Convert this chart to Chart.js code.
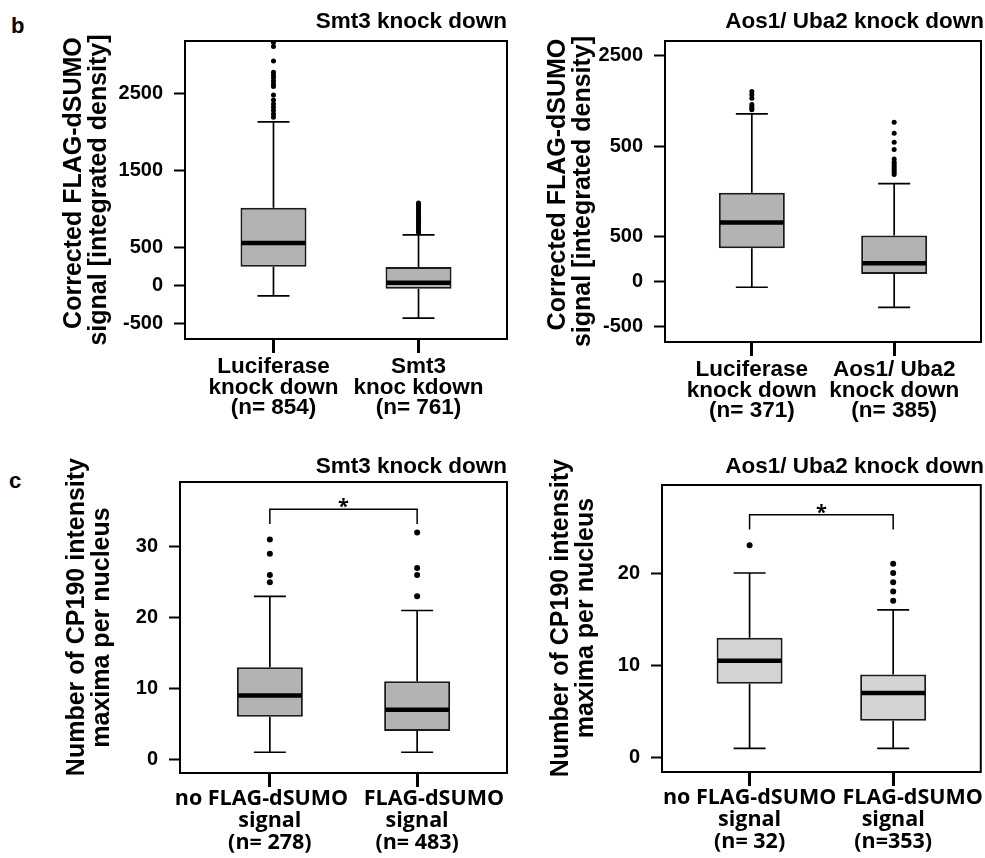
<!DOCTYPE html>
<html>
<head>
<meta charset="utf-8">
<script src="https://cdn.jsdelivr.net/npm/chart.js@4.4.1/dist/chart.umd.min.js"></script>
<style>
    body { margin: 0; background: #fff; width: 985px; height: 858px; position: relative; overflow: hidden; }
    .panel { position: absolute; }
    .letter { position: absolute; font: bold 22px "Liberation Sans", Arial, sans-serif; color: #000; }
</style>
</head>
<body>
<div class="letter" style="left:11px;top:13px">b</div>
<div class="letter" style="left:9px;top:468px">c</div>
<canvas class="panel" id="bSmt" width="512" height="428" style="left:0;top:0"></canvas>
<canvas class="panel" id="bAos" width="495" height="428" style="left:490px;top:0"></canvas>
<canvas class="panel" id="cSmt" width="512" height="430" style="left:0;top:428px"></canvas>
<canvas class="panel" id="cAos" width="495" height="430" style="left:490px;top:428px"></canvas>
<script>
// b: FLAG-dSUMO signal, Smt3 knock down
const bSmtLabels = [['Luciferase', 'knock down', '(n= 854)'], ['Smt3', 'knoc kdown', '(n= 761)']];
const bSmtLow = [-134, -425];
const bSmtQ1 = [248, -39];
const bSmtMedian = [557, 39];
const bSmtQ3 = [1017, 244];
const bSmtHigh = [2135, 661];
const bSmtOutliers = [
    [2196, 2239, 2283, 2327, 2370, 2422, 2487, 2596, 2631, 2670, 2713, 2748, 2783, 2931, 3118, 3170],
    [690, 715, 740, 765, 790, 815, 840, 865, 890, 915, 940, 965, 990, 1015, 1040, 1060, 1078]
];
const bSmtTicks = [-500, 0, 500, 1500, 2500];
const bSmtTickLabels = ['-500', '0', '500', '1500', '2500'];

// b: FLAG-dSUMO signal, Aos1/ Uba2 knock down
const bAosLabels = [['Luciferase', 'knock down', '(n= 371)'], ['Aos1/ Uba2', 'knock down', '(n= 385)']];
const bAosLow = [-63, -285];
const bAosQ1 = [369, 85];
const bAosMedian = [653, 203];
const bAosQ3 = [982, 509];
const bAosHigh = [1857, 1085];
const bAosOutliers = [
    [1901, 1915, 1937, 1960, 2029, 2067, 2103],
    [1185, 1207, 1229, 1251, 1273, 1295, 1321, 1358, 1461, 1542, 1642, 1764]
];
const bAosTicks = [-500, 0, 500, 1500, 2500];
const bAosTickLabels = ['-500', '0', '500', '500', '2500'];

// c: CP190 maxima per nucleus, Smt3 knock down
// (the spaces only nudge each line to where it sits in the figure)
const cSmtLabels = [['no FLAG-dSUMO   ', 'signal', '(n= 278)'], ['      FLAG-dSUMO', 'signal', '(n= 483)']];
const cSmtLow = [1, 1];
const cSmtQ1 = [6, 4];
const cSmtMedian = [9, 7];
const cSmtQ3 = [13, 11];
const cSmtHigh = [23, 21];
const cSmtOutliers = [[25, 26, 29, 31], [23, 26, 27, 32]];
const cSmtTicks = [0, 10, 20, 30];
const cSmtBracket = [33.2, 35.3];

// c: CP190 maxima per nucleus, Aos1/ Uba2 knock down
const cAosLabels = [['no FLAG-dSUMO', 'signal', '(n= 32)'], ['       FLAG-dSUMO', 'signal', '(n=353)']];
const cAosLow = [1, 1];
const cAosQ1 = [8, 4];
const cAosMedian = [10.5, 7];
const cAosQ3 = [13, 9];
const cAosHigh = [20, 16];
const cAosOutliers = [[23], [17, 18, 19, 20, 21]];
const cAosTicks = [0, 10, 20];
const cAosBracket = [24.7, 26.3];

const ARIAL = '"Liberation Sans", Arial, sans-serif';
const CALIBRI = '"Open Sans", "Noto Sans", sans-serif';

// whiskers, medians, significance bracket and the frame
function boxExtras(p) {
    return {
        id: 'boxExtras',
        afterDatasetsDraw(chart) {
            const {ctx, chartArea: a, scales: {x, y}} = chart;
            ctx.save();
            ctx.strokeStyle = '#000';
            p.low.forEach((lo, i) => {
                const cx = x.getPixelForValue(i + 1);
                const yLo = y.getPixelForValue(lo);
                const yHi = y.getPixelForValue(p.high[i]);
                ctx.lineWidth = 1.7;
                ctx.beginPath();
                ctx.moveTo(cx, y.getPixelForValue(p.q1[i]));
                ctx.lineTo(cx, yLo);
                ctx.moveTo(cx - 16, yLo);
                ctx.lineTo(cx + 16, yLo);
                ctx.moveTo(cx, y.getPixelForValue(p.q3[i]));
                ctx.lineTo(cx, yHi);
                ctx.moveTo(cx - 16, yHi);
                ctx.lineTo(cx + 16, yHi);
                ctx.stroke();
                const ym = y.getPixelForValue(p.median[i]);
                ctx.lineWidth = 4.5;
                ctx.beginPath();
                ctx.moveTo(cx - 32, ym);
                ctx.lineTo(cx + 32, ym);
                ctx.stroke();
            });
            if (p.bracket) {
                const x1 = x.getPixelForValue(1), x2 = x.getPixelForValue(2);
                const yb = y.getPixelForValue(p.bracket[1]);
                const yl = y.getPixelForValue(p.bracket[0]);
                ctx.lineWidth = 1.5;
                ctx.beginPath();
                ctx.moveTo(x1, yl);
                ctx.lineTo(x1, yb);
                ctx.lineTo(x2, yb);
                ctx.lineTo(x2, yl);
                ctx.stroke();
                ctx.fillStyle = '#000';
                ctx.font = 'bold 20px ' + CALIBRI;
                ctx.textAlign = 'center';
                ctx.textBaseline = 'alphabetic';
                ctx.fillText('*', (x1 + x2) / 2, yb + 4);
            }
            ctx.lineWidth = 2;
            ctx.strokeRect(a.left, a.top, a.right - a.left, a.bottom - a.top);
            ctx.restore();
        }
    };
}

function makePanel(id, p) {
    const boxes = p.q1.map((v, i) => ({x: i + 1, y: [v, p.q3[i]]}));
    const dots = p.outliers.flatMap((list, i) => list.map(v => ({x: i + 1, y: v})));
    return new Chart(document.getElementById(id), {
        type: 'bar',
        data: {
            datasets: [{
                data: boxes,
                backgroundColor: p.fill,
                borderColor: '#1a1a1a',
                borderWidth: 2,
                borderSkipped: false,
                inflateAmount: 0,
                barThickness: 66,
                grouped: false
            }, {
                type: 'scatter',
                data: dots,
                pointRadius: p.dot,
                pointBackgroundColor: '#000',
                pointBorderWidth: 0
            }]
        },
        options: {
            responsive: false,
            animation: false,
            events: [],
            layout: {padding: {left: 0, right: p.padRight, top: 0, bottom: 0}},
            plugins: {
                legend: {display: false},
                tooltip: {enabled: false},
                title: {
                    display: true,
                    text: p.title,
                    align: 'end',
                    color: '#000',
                    font: {family: ARIAL, size: 22.5, weight: 'bold', lineHeight: 1.2},
                    padding: p.titlePad
                }
            },
            scales: {
                x: {
                    type: 'linear',
                    min: 0.39,
                    max: 2.61,
                    offset: false,
                    afterBuildTicks: s => { s.ticks = [{value: 1}, {value: 2}]; },
                    afterFit: s => { s.height = p.xH; },
                    ticks: {
                        callback: v => p.labels[v - 1],
                        color: '#000',
                        autoSkip: false,
                        maxRotation: 0,
                        padding: p.xPad,
                        font: p.xFont
                    },
                    grid: {display: true, offset: false, drawOnChartArea: false, tickLength: 14, tickWidth: 3, tickColor: '#000'},
                    border: {display: false}
                },
                y: {
                    min: p.yMin,
                    max: p.yMax,
                    afterBuildTicks: s => { s.ticks = p.ticks.map(v => ({value: v})); },
                    afterFit: s => { s.width = p.yW; },
                    ticks: {
                        callback: (v, i) => p.tickLabels[i],
                        color: '#000',
                        autoSkip: false,
                        padding: 11,
                        font: {family: ARIAL, size: 20, weight: 'bold'}
                    },
                    grid: {display: true, drawOnChartArea: false, tickLength: 11, tickWidth: 2, tickColor: '#000'},
                    border: {display: false},
                    title: {
                        display: true,
                        text: p.yTitle,
                        color: '#000',
                        font: {family: ARIAL, size: 25, weight: 'bold', lineHeight: 1},
                        padding: {top: p.yTitlePad, bottom: 0}
                    }
                }
            }
        },
        plugins: [boxExtras(p)]
    });
}

const bFont = {family: ARIAL, size: 22.5, weight: 'bold', lineHeight: '20.5px'};
const cFont = {family: CALIBRI, size: 21.5, weight: 'bold', lineHeight: '22px'};

makePanel('bSmt', {
    title: 'Smt3 knock down', yTitle: ['  Corrected FLAG-dSUMO', 'signal [integrated density]'], labels: bSmtLabels,
    low: bSmtLow, q1: bSmtQ1, median: bSmtMedian, q3: bSmtQ3, high: bSmtHigh, outliers: bSmtOutliers,
    ticks: bSmtTicks, tickLabels: bSmtTickLabels, yMin: -696, yMax: 3191,
    fill: '#b3b3b3', dot: 2.5, xFont: bFont, xPad: 4,
    yW: 185, xH: 89, padRight: 5, titlePad: {top: 8.5, bottom: 5.5}, yTitlePad: 61.5
});
makePanel('bAos', {
    title: 'Aos1/ Uba2 knock down', yTitle: ['  Corrected FLAG-dSUMO', 'signal [integrated density]'], labels: bAosLabels,
    low: bAosLow, q1: bAosQ1, median: bAosMedian, q3: bAosQ3, high: bAosHigh, outliers: bAosOutliers,
    ticks: bAosTicks, tickLabels: bAosTickLabels, yMin: -669, yMax: 2663,
    fill: '#b3b3b3', dot: 2.5, xFont: bFont, xPad: 4,
    yW: 175, xH: 86, padRight: 1, titlePad: {top: 8.5, bottom: 5.5}, yTitlePad: 55.5
});
makePanel('cSmt', {
    title: 'Smt3 knock down', yTitle: ['   Number of CP190 intensity', 'maxima per nucleus'], labels: cSmtLabels,
    low: cSmtLow, q1: cSmtQ1, median: cSmtMedian, q3: cSmtQ3, high: cSmtHigh, outliers: cSmtOutliers,
    ticks: cSmtTicks, tickLabels: cSmtTicks.map(String), yMin: -1.93, yMax: 39.13, bracket: cSmtBracket,
    fill: '#b3b3b3', dot: 3, xFont: cFont, xPad: 1,
    yW: 180, xH: 85, padRight: 5, titlePad: {top: 25.2, bottom: 1.8}, yTitlePad: 65
});
makePanel('cAos', {
    title: 'Aos1/ Uba2 knock down', yTitle: ['   Number of CP190 intensity', '   maxima per nucleus'], labels: cAosLabels,
    low: cAosLow, q1: cAosQ1, median: cAosMedian, q3: cAosQ3, high: cAosHigh, outliers: cAosOutliers,
    ticks: cAosTicks, tickLabels: cAosTicks.map(String), yMin: -1.55, yMax: 29.53, bracket: cAosBracket,
    fill: '#d4d4d4', dot: 3, xFont: cFont, xPad: 1,
    yW: 172, xH: 86, padRight: 1, titlePad: {top: 25.2, bottom: 4.8}, yTitlePad: 58.5
});
</script>
</body>
</html>
